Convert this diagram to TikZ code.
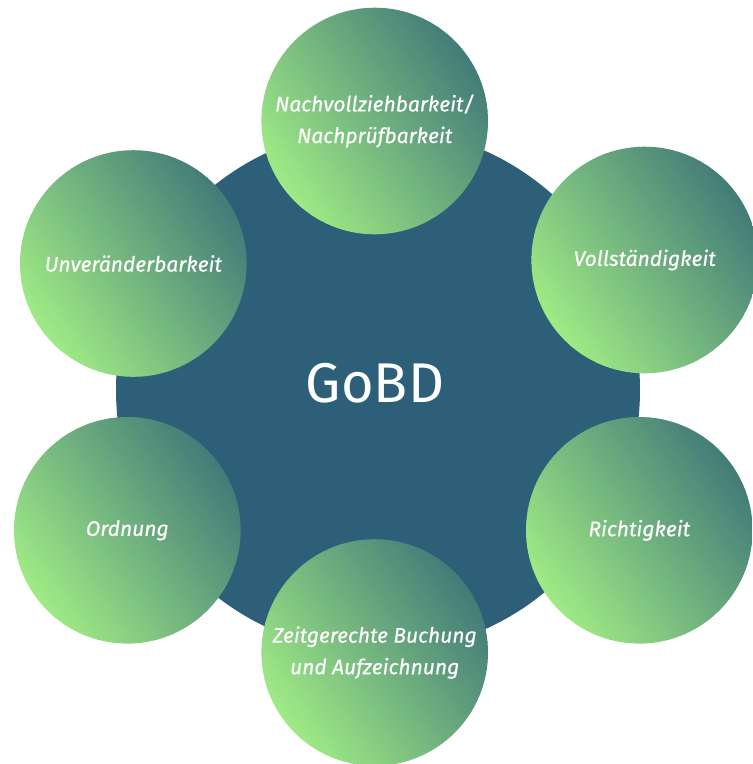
\documentclass[tikz,border=0pt]{standalone}
\usepackage{fontspec}
\setmainfont{Fira Sans}
\newfontfamily\labfont{Fira Sans}[FakeBold=0.5]
\definecolor{lg}{HTML}{A0EA85}
\definecolor{dg}{HTML}{437C78}
\definecolor{core}{HTML}{2E5F78}
\tikzset{
  core/.style={circle, fill=core, minimum size=524pt, inner sep=0pt},
  topic/.style={circle, minimum size=226.6pt, inner sep=0pt,
    text=white, align=center, font=\labfont\fontsize{21}{31.6}\selectfont\itshape},
  title/.style={text=white, font=\fontsize{56}{60}\selectfont, inner sep=0pt}
}
% gradient disc: #1 = node name
\newcommand{\gradDisc}[1]{%
  \begin{scope}
    \clip (#1.center) circle (113.3pt);
    \begin{scope}[shift={(#1.center)}, rotate=35]
      \foreach \i in {0,...,59}{
        \pgfmathsetmacro{\pc}{100*\i/59}
        \fill[color=dg!\pc!lg] (-113.5+3.78*\i,-120) rectangle (-113.5+3.78*\i+4.2,120);
      }
    \end{scope}
  \end{scope}}
\begin{document}
\begin{tikzpicture}[x=1pt,y=-1pt]
\useasboundingbox (0,0) rectangle (753,764);
\node[core] (c) at (378,390) {};
\node[title] (gobd) at (375,383.5) {GoBD};
\foreach \n/\x/\y in {t1/374.7/121, t2/644.7/260, t3/639.3/530.3, t4/374.7/652.5, t5/127.3/530.3, t6/133.3/263.5}{
  \coordinate (\n) at (\x,\y);
  \gradDisc{\n}
}
\node[topic] (l1) at (t1) {Nachvollziehbarkeit/\\Nachprüfbarkeit};
\node[topic] (l2) at (t2) {Vollständigkeit};
\node[topic] (l3) at (t3) {Richtigkeit};
\node[topic] (l4) at (t4) {Zeitgerechte Buchung\\und Aufzeichnung};
\node[topic] (l5) at (t5) {Ordnung};
\node[topic] (l6) at (t6) {Unveränderbarkeit};
\end{tikzpicture}
\end{document}
